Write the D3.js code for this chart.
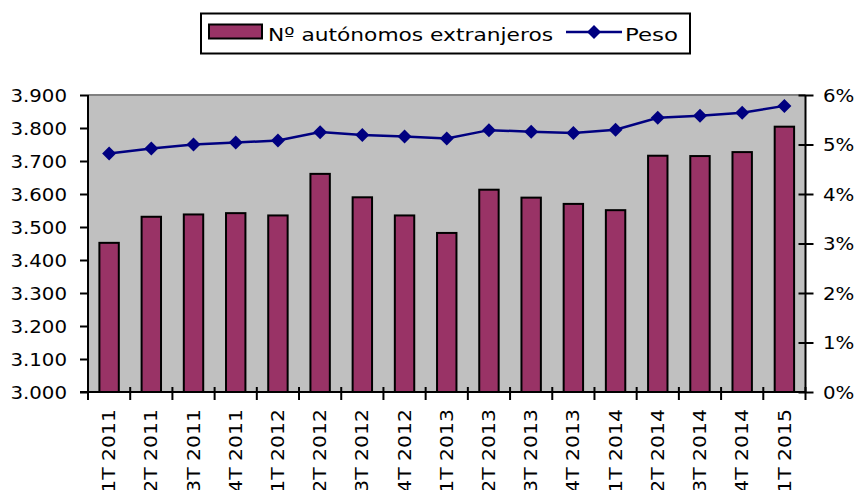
<!DOCTYPE html>
<html>
<head>
<meta charset="utf-8">
<script src="https://cdn.jsdelivr.net/npm/d3@7"></script>
<style>
  body { margin: 0; background: #fff; }
  text { font-family: "DejaVu Sans", Verdana, sans-serif; fill: #000; }
</style>
</head>
<body>
<div id="chart"></div>
<script>
// Data
const categories = [
  '1T 2011', '2T 2011', '3T 2011', '4T 2011',
  '1T 2012', '2T 2012', '3T 2012', '4T 2012',
  '1T 2013', '2T 2013', '3T 2013', '4T 2013',
  '1T 2014', '2T 2014', '3T 2014', '4T 2014',
  '1T 2015'
];
const autonomos = [
  3452, 3531, 3538, 3542,
  3535, 3661, 3590, 3535,
  3482, 3613, 3589, 3570,
  3551, 3716, 3715, 3727,
  3804
];
const peso = [
  0.0482, 0.0492, 0.0500, 0.0504,
  0.0508, 0.0525, 0.0519, 0.0516,
  0.0512, 0.0529, 0.0526, 0.0523,
  0.0530, 0.0554, 0.0558, 0.0564,
  0.0578
];
const leftTicks = [3000, 3100, 3200, 3300, 3400, 3500, 3600, 3700, 3800, 3900];
const rightTicks = [0, 0.01, 0.02, 0.03, 0.04, 0.05, 0.06];
const seriesNames = ['Nº autónomos extranjeros', 'Peso'];

const width = 859;
const height = 490;
const plot = { left: 88, right: 805.5, top: 95, bottom: 392 };
const barColor = '#993366';
const lineColor = '#000080';
const sx = 1.13; // text in the reference runs wider than DejaVu

const svg = d3.select('#chart').append('svg')
  .attr('width', width)
  .attr('height', height);

// Scales
const x = d3.scaleBand()
  .domain(categories)
  .range([plot.left, plot.right])
  .paddingInner(0)
  .paddingOuter(0);
const yLeft = d3.scaleLinear().domain([3000, 3900]).range([plot.bottom, plot.top]);
const yRight = d3.scaleLinear().domain([0, 0.06]).range([plot.bottom, plot.top]);

const es = d3.formatLocale({ decimal: ',', thousands: '.', grouping: [3], currency: ['', '€'] });
const fmtLeft = es.format(',.0f');
const fmtRight = d3.format('.0%');

// Plot background
svg.append('rect')
  .attr('x', plot.left)
  .attr('y', plot.top)
  .attr('width', plot.right - plot.left)
  .attr('height', plot.bottom - plot.top)
  .attr('fill', '#c0c0c0');
svg.append('line')
  .attr('x1', plot.left).attr('x2', plot.right)
  .attr('y1', plot.top).attr('y2', plot.top)
  .attr('stroke', '#808080')
  .attr('stroke-width', 2);

// Bars
const barW = x.bandwidth() * 0.46;
svg.append('g')
  .selectAll('rect')
  .data(categories)
  .join('rect')
  .attr('x', (d) => x(d) + x.bandwidth() / 2 - barW / 2)
  .attr('y', (d, i) => yLeft(autonomos[i]))
  .attr('width', barW)
  .attr('height', (d, i) => plot.bottom - yLeft(autonomos[i]))
  .attr('fill', barColor)
  .attr('stroke', '#000')
  .attr('stroke-width', 2);

// Line + diamonds
const cx = (d) => x(d) + x.bandwidth() / 2;
const line = d3.line()
  .x((d) => cx(d))
  .y((d, i) => yRight(peso[i]));
svg.append('path')
  .datum(categories)
  .attr('d', line)
  .attr('fill', 'none')
  .attr('stroke', lineColor)
  .attr('stroke-width', 2.5);

const diamond = 'M0,-7L7,0L0,7L-7,0Z';
svg.append('g')
  .selectAll('path')
  .data(categories)
  .join('path')
  .attr('d', diamond)
  .attr('transform', (d, i) => `translate(${cx(d)},${yRight(peso[i])})`)
  .attr('fill', lineColor);

// Left axis
const leftAxis = svg.append('g')
  .attr('transform', `translate(${plot.left},0)`)
  .call(d3.axisLeft(yLeft).tickValues(leftTicks).tickFormat(fmtLeft).tickSize(8).tickPadding(0));
leftAxis.select('.domain').attr('d', `M0,${plot.bottom}V${plot.top}`).attr('stroke-width', 2);
leftAxis.selectAll('.tick line').attr('stroke-width', 2);
leftAxis.selectAll('.tick text')
  .attr('x', -21 / sx)
  .attr('dy', '0.36em')
  .attr('transform', `scale(${sx},1)`)
  .style('font-size', '17.5px')
  .style('font-family', '"DejaVu Sans", Verdana, sans-serif');

// Right axis (ticks cross the axis line)
const rightAxis = svg.append('g')
  .attr('transform', `translate(${plot.right},0)`)
  .call(d3.axisRight(yRight).tickValues(rightTicks).tickFormat(fmtRight).tickSize(8).tickPadding(0));
rightAxis.select('.domain').attr('d', `M0,${plot.bottom}V${plot.top}`).attr('stroke-width', 2);
rightAxis.selectAll('.tick line').attr('x1', -7).attr('x2', 8).attr('stroke-width', 2);
rightAxis.selectAll('.tick text')
  .attr('x', 17.5 / sx)
  .attr('dy', '0.36em')
  .attr('transform', `scale(${sx},1)`)
  .style('font-size', '17.5px')
  .style('font-family', '"DejaVu Sans", Verdana, sans-serif');

// Bottom axis: labels at band centres, ticks at band boundaries
const bottomAxis = svg.append('g')
  .attr('transform', `translate(0,${plot.bottom})`)
  .call(d3.axisBottom(x).tickSize(0).tickPadding(0));
bottomAxis.select('.domain').attr('d', `M${plot.left - 8},0H${plot.right}`).attr('stroke-width', 2);
bottomAxis.selectAll('.tick text')
  .attr('x', 0)
  .attr('y', 0)
  .attr('dy', '0.36em')
  .attr('text-anchor', 'end')
  .attr('transform', 'translate(0,17) rotate(-90) scale(1.2,1)')
  .style('font-size', '17px')
  .style('font-family', '"DejaVu Sans", Verdana, sans-serif');

const boundaries = categories.map((d) => x(d)).concat([plot.right]);
bottomAxis.append('g')
  .selectAll('line')
  .data(boundaries)
  .join('line')
  .attr('x1', (d) => d).attr('x2', (d) => d)
  .attr('y1', -5).attr('y2', 8)
  .attr('stroke', '#000')
  .attr('stroke-width', 2);

// Legend
const legend = svg.append('g');
legend.append('rect')
  .attr('x', 201).attr('y', 13.5)
  .attr('width', 489).attr('height', 40)
  .attr('fill', '#fff')
  .attr('stroke', '#000')
  .attr('stroke-width', 2);
legend.append('rect')
  .attr('x', 209).attr('y', 24.5)
  .attr('width', 53).attr('height', 14)
  .attr('fill', barColor)
  .attr('stroke', '#000')
  .attr('stroke-width', 2);
legend.append('text')
  .attr('x', 268).attr('y', 41)
  .attr('textLength', 285)
  .attr('lengthAdjust', 'spacingAndGlyphs')
  .style('font-size', '18.5px')
  .text(seriesNames[0]);
legend.append('line')
  .attr('x1', 566).attr('x2', 622)
  .attr('y1', 32).attr('y2', 32)
  .attr('stroke', lineColor)
  .attr('stroke-width', 2.5);
legend.append('path')
  .attr('d', diamond)
  .attr('transform', 'translate(594,32)')
  .attr('fill', lineColor);
legend.append('text')
  .attr('x', 625).attr('y', 41)
  .attr('textLength', 53)
  .attr('lengthAdjust', 'spacingAndGlyphs')
  .style('font-size', '18.5px')
  .text(seriesNames[1]);
</script>
</body>
</html>
